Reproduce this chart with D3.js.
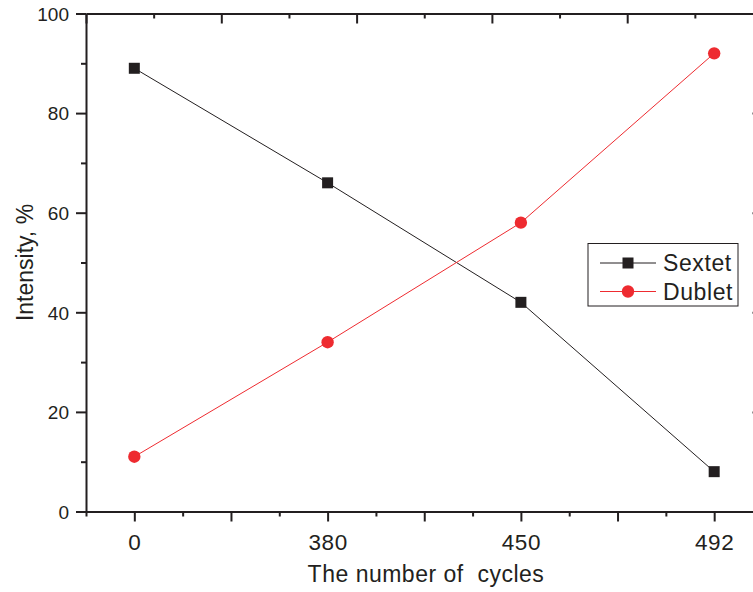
<!DOCTYPE html>
<html>
<head>
<meta charset="utf-8">
<script src="https://cdn.jsdelivr.net/npm/d3@7"></script>
<style>
  body { margin: 0; background: #fff; }
  svg text { font-family: "Liberation Sans", Arial, sans-serif; fill: #231f20; }
  .axis path, .axis line { stroke: #231f20; }
</style>
</head>
<body>
<svg id="chartSVG" width="753" height="592"></svg>
<script>
/* ---------- Data ---------- */
const cycles = ["0", "380", "450", "492"];
const sextet = [89, 66, 42, 8];
const dublet = [11, 34, 58, 92];
const yTicks = [0, 20, 40, 60, 80, 100];

const ink = "#231f20";
const red = "#ee2b30";

// plot box (right spine falls just outside the window, as in the original)
const plotLeft = 86, plotRight = 762.5, plotTop = 13.5, plotBottom = 511.5;

var svg = d3.select("#chartSVG");

/* ---------- Scales ---------- */
var xScale = d3.scaleLinear().domain([-0.25, 3.25]).range([plotLeft, plotRight]);
var topScale = d3.scaleLinear().domain([0, 5]).range([plotLeft, plotRight]);
var yScale = d3.scaleLinear().domain([0, 100]).range([plotBottom, plotTop]);

var quarterSteps = d3.range(-0.25, 3.26, 0.25);
var halfSteps = d3.range(0, 5.01, 0.5);
var tenSteps = d3.range(0, 101, 10);

/* ---------- Axes ---------- */
// bottom: long ticks on halves, short on quarters, labels only on categories
var bottomAxis = d3.axisBottom(xScale)
    .tickValues(quarterSteps)
    .tickSizeOuter(0)
    .tickFormat(d => Number.isInteger(d) ? cycles[d] : "");
var gb = svg.append("g").attr("class", "axis")
    .attr("transform", "translate(0," + plotBottom + ")")
    .call(bottomAxis);
gb.selectAll(".tick line")
    .attr("y2", d => (Math.abs(d * 2 - Math.round(d * 2)) < 1e-6) ? 10 : 5)
    .attr("stroke-width", 2);
gb.selectAll(".tick text").attr("y", 0).attr("dy", 38)
    .style("font-size", "22.5px").style("letter-spacing", "0.6px");

// left: majors every 20 with labels, minors every 10
var leftAxis = d3.axisLeft(yScale)
    .tickValues(tenSteps)
    .tickSizeOuter(0)
    .tickFormat(d => yTicks.includes(d) ? d : "");
var gl = svg.append("g").attr("class", "axis")
    .attr("transform", "translate(" + plotLeft + ",0)")
    .call(leftAxis);
gl.selectAll(".tick line")
    .attr("x2", d => yTicks.includes(d) ? -10 : -5)
    .attr("stroke-width", 2);
gl.selectAll(".tick text").attr("x", -17).attr("dy", "0.36em").style("font-size", "19px");

// top: inward ticks, own spacing, no labels
var topAxis = d3.axisTop(topScale).tickValues(halfSteps).tickSizeOuter(0).tickFormat("");
var gt = svg.append("g").attr("class", "axis")
    .attr("transform", "translate(0," + plotTop + ")")
    .call(topAxis);
gt.selectAll(".tick line")
    .attr("y2", d => Number.isInteger(d) ? 10 : 5)
    .attr("stroke-width", 2);

// right: inward ticks, no labels
var rightAxis = d3.axisRight(yScale).tickValues(tenSteps).tickSizeOuter(0).tickFormat("");
var gr = svg.append("g").attr("class", "axis")
    .attr("transform", "translate(" + plotRight + ",0)")
    .call(rightAxis);
gr.selectAll(".tick line")
    .attr("x2", d => yTicks.includes(d) ? -10 : -5)
    .attr("stroke-width", 2);

svg.selectAll(".axis path.domain").attr("stroke-width", 2);

/* ---------- Axis Caption ---------- */
svg.append("text")
    .text("The number of\u00a0 cycles")
    .attr("x", 426)
    .attr("y", 582)
    .attr("text-anchor", "middle")
    .style("font-size", "23px")
    .style("letter-spacing", "0.5px");
svg.append("text")
    .text("Intensity, %")
    .attr("text-anchor", "middle")
    .attr("transform", "translate(33," + (plotTop + plotBottom) / 2 + ") rotate(-90)")
    .style("font-size", "23px");

/* ---------- Series ---------- */
var line = d3.line().x((d, i) => xScale(i)).y(d => yScale(d));

svg.append("path").datum(sextet)
    .attr("d", line).attr("fill", "none").attr("stroke", ink).attr("stroke-width", 1);
svg.append("path").datum(dublet)
    .attr("d", line).attr("fill", "none").attr("stroke", red).attr("stroke-width", 1);

const sq = 11;
svg.selectAll("rect.sextet").data(sextet).enter().append("rect")
    .attr("class", "sextet")
    .attr("x", (d, i) => xScale(i) - sq / 2)
    .attr("y", d => yScale(d) - sq / 2)
    .attr("width", sq).attr("height", sq)
    .attr("fill", ink);
svg.selectAll("circle.dublet").data(dublet).enter().append("circle")
    .attr("class", "dublet")
    .attr("cx", (d, i) => xScale(i))
    .attr("cy", d => yScale(d))
    .attr("r", 6.2)
    .attr("fill", red);

/* ---------- Legend ---------- */
var legend = svg.append("g").attr("transform", "translate(588,243.5)");
legend.append("rect")
    .attr("width", 150).attr("height", 62.5)
    .attr("fill", "white").attr("stroke", ink).attr("stroke-width", 1);
var rows = [
    { name: "Sextet", colour: ink, y: 19.5 },
    { name: "Dublet", colour: red, y: 48 }
];
rows.forEach(r => {
    legend.append("line")
        .attr("x1", 12).attr("x2", 68)
        .attr("y1", r.y).attr("y2", r.y)
        .attr("stroke", r.colour).attr("stroke-width", 1);
    if (r.name === "Sextet") {
        legend.append("rect")
            .attr("x", 40 - sq / 2).attr("y", r.y - sq / 2)
            .attr("width", sq).attr("height", sq).attr("fill", r.colour);
    } else {
        legend.append("circle")
            .attr("cx", 40).attr("cy", r.y).attr("r", 6.2).attr("fill", r.colour);
    }
    legend.append("text")
        .text(r.name)
        .attr("x", 75).attr("y", r.y)
        .attr("dy", "0.36em")
        .style("font-size", "23px")
        .style("letter-spacing", "0.6px");
});
</script>
</body>
</html>
